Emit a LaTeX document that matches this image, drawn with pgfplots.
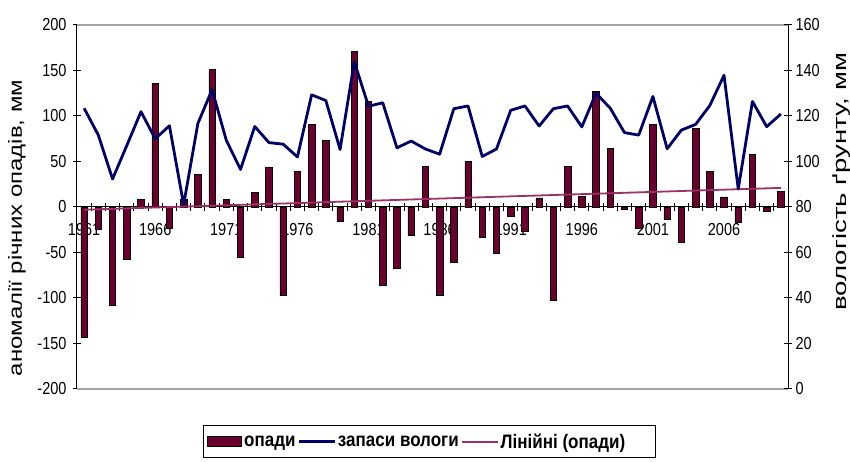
\documentclass[border=0pt]{standalone}
\usepackage{fontspec}
\setmainfont{Liberation Sans}
\usepackage{pgfplots}
\pgfplotsset{compat=1.18}
\definecolor{barcol}{RGB}{105,0,45}
\definecolor{moist}{RGB}{0,0,102}
\definecolor{trendc}{RGB}{153,51,102}
\pgfplotstableread{
x y
0 -143
1 -25
2 -108
3 -58
4 8
5 136
6 -23
7 8
8 36
9 151
10 8
11 -55
12 16
13 44
14 -97
15 39
16 91
17 73
18 -16
19 171
20 116
21 -86
22 -67
23 -31
24 45
25 -97
26 -61
27 50
28 -33
29 -51
30 -10
31 -27
32 10
33 -103
34 45
35 12
36 127
37 64
38 -3
39 -23
40 91
41 -14
42 -39
43 86
44 39
45 11
46 -17
47 58
48 -5
49 17
}\precip
\pgfplotstableread{
x y
0 123.4
1 111.6
2 92.3
3 107
4 121.9
5 110
6 115.7
7 81
8 116.7
9 131.6
10 109.3
11 96.5
12 115.4
13 108.3
14 107.6
15 102
16 129.3
17 126.8
18 105.3
19 143.8
20 124.3
21 125.8
22 106
23 109
24 105.5
25 103.2
26 123.2
27 124.4
28 102.2
29 105.5
30 122.5
31 124.4
32 115.6
33 123.2
34 124.4
35 115.2
36 130
37 123.4
38 112.7
39 111.6
40 128.6
41 105.6
42 113.8
43 116.3
44 124.6
45 137.9
46 87.9
47 126.4
48 115.3
49 120.9
}\moisture
\begin{document}
\begin{tikzpicture}
\path[use as bounding box] (-77pt,-73pt) rectangle (773pt,389pt);
\begin{axis}[
  at={(0pt,0pt)}, anchor=south west,
  scale only axis, width=711pt, height=364pt,
  xmin=-0.5, xmax=49.5, ymin=-200, ymax=200,
  clip=false,
  axis x line*=middle, axis y line*=left,
  x axis line style={-, line width=1pt},
  y axis line style={-, line width=1pt},
  tick align=center,
  major tick length=8pt,
  tick style={black, line width=1pt},
  xtick={-0.5,0.5,...,49.5},
  xticklabels=\empty,
  extra x ticks={0,5,...,45},
  extra x tick labels={\scalebox{1}[1.2]{1961},\scalebox{1}[1.2]{1966},\scalebox{1}[1.2]{1971},\scalebox{1}[1.2]{1976},\scalebox{1}[1.2]{1981},\scalebox{1}[1.2]{1986},\scalebox{1}[1.2]{1991},\scalebox{1}[1.2]{1996},\scalebox{1}[1.2]{2001},\scalebox{1}[1.2]{2006}},
  extra x tick style={major tick length=0pt},
  xticklabel style={yshift=-13pt},
  ytick={-200,-150,...,200},
  yticklabel={\scalebox{1}[1.2]{\pgfmathprintnumber{\tick}}},
  yticklabel style={xshift=-3pt},
  /pgf/number format/assume math mode=true,
  tick label style={font=\fontsize{14.5}{16}\selectfont},
  ylabel={\scalebox{1.26}[1]{аномалії річних опадів, мм}},
  ylabel style={at={(axis description cs:-0.0844,0.442)}, anchor=center, font=\fontsize{19}{22}\selectfont},
  legend columns=3,
  legend style={at={(axis description cs:0.177,-0.099)}, anchor=north west,
    draw=black, line width=1pt, inner xsep=4pt, inner ysep=6pt,
    font=\bfseries\fontsize{17}{20}\selectfont,
    /tikz/every even column/.append style={column sep=0pt}},
]
\addplot[ybar, bar width=6.5pt, fill=barcol, draw=black, line width=0.6pt,
  legend image code/.code={\draw[fill=barcol,draw=black,line width=0.8pt] (0pt,-5pt) rectangle (34pt,5pt);}]
  table[x=x,y=y] {\precip};
\addlegendentry{\scalebox{1}[1.15]{опади}}
\addlegendimage{moist, line width=2.5pt, legend image code/.code={\draw[moist,line width=2.5pt] (0pt,0pt) -- (36pt,0pt);}}
\addlegendentry{\scalebox{1}[1.15]{запаси вологи}}
\addplot[trendc, line width=1.8pt, no markers,
  legend image code/.code={\draw[trendc,line width=2pt] (0pt,0pt) -- (36pt,0pt);}]
  coordinates {(0,-3) (49,21)};
\addlegendentry{\scalebox{1}[1.15]{Лінійні (опади)}\rule{24pt}{0pt}}
\draw[black!35, line width=2pt] (rel axis cs:0,1) -- (rel axis cs:1,1);
\draw[black!35, line width=2pt] (rel axis cs:0,0) -- (rel axis cs:1,0);
\end{axis}
\begin{axis}[
  at={(0pt,0pt)}, anchor=south west,
  scale only axis, width=711pt, height=364pt,
  xmin=-0.5, xmax=49.5, ymin=0, ymax=160,
  axis x line=none, axis y line*=right,
  y axis line style={-, line width=1pt},
  tick align=center,
  major tick length=8pt,
  tick style={black, line width=1pt},
  ytick={0,20,...,160},
  yticklabel={\scalebox{1}[1.2]{\pgfmathprintnumber{\tick}}},
  /pgf/number format/assume math mode=true,
  tick label style={font=\fontsize{14.5}{16}\selectfont},
  ylabel={\scalebox{1.45}[1]{вологість ґрунту, мм}},
  ylabel style={at={(axis description cs:1.076,0.570)}, anchor=center, font=\fontsize{19}{22}\selectfont},
]
\addplot[moist, line width=2.8pt, line join=round, no markers] table[x=x,y=y] {\moisture};
\end{axis}
\end{tikzpicture}
\end{document}
